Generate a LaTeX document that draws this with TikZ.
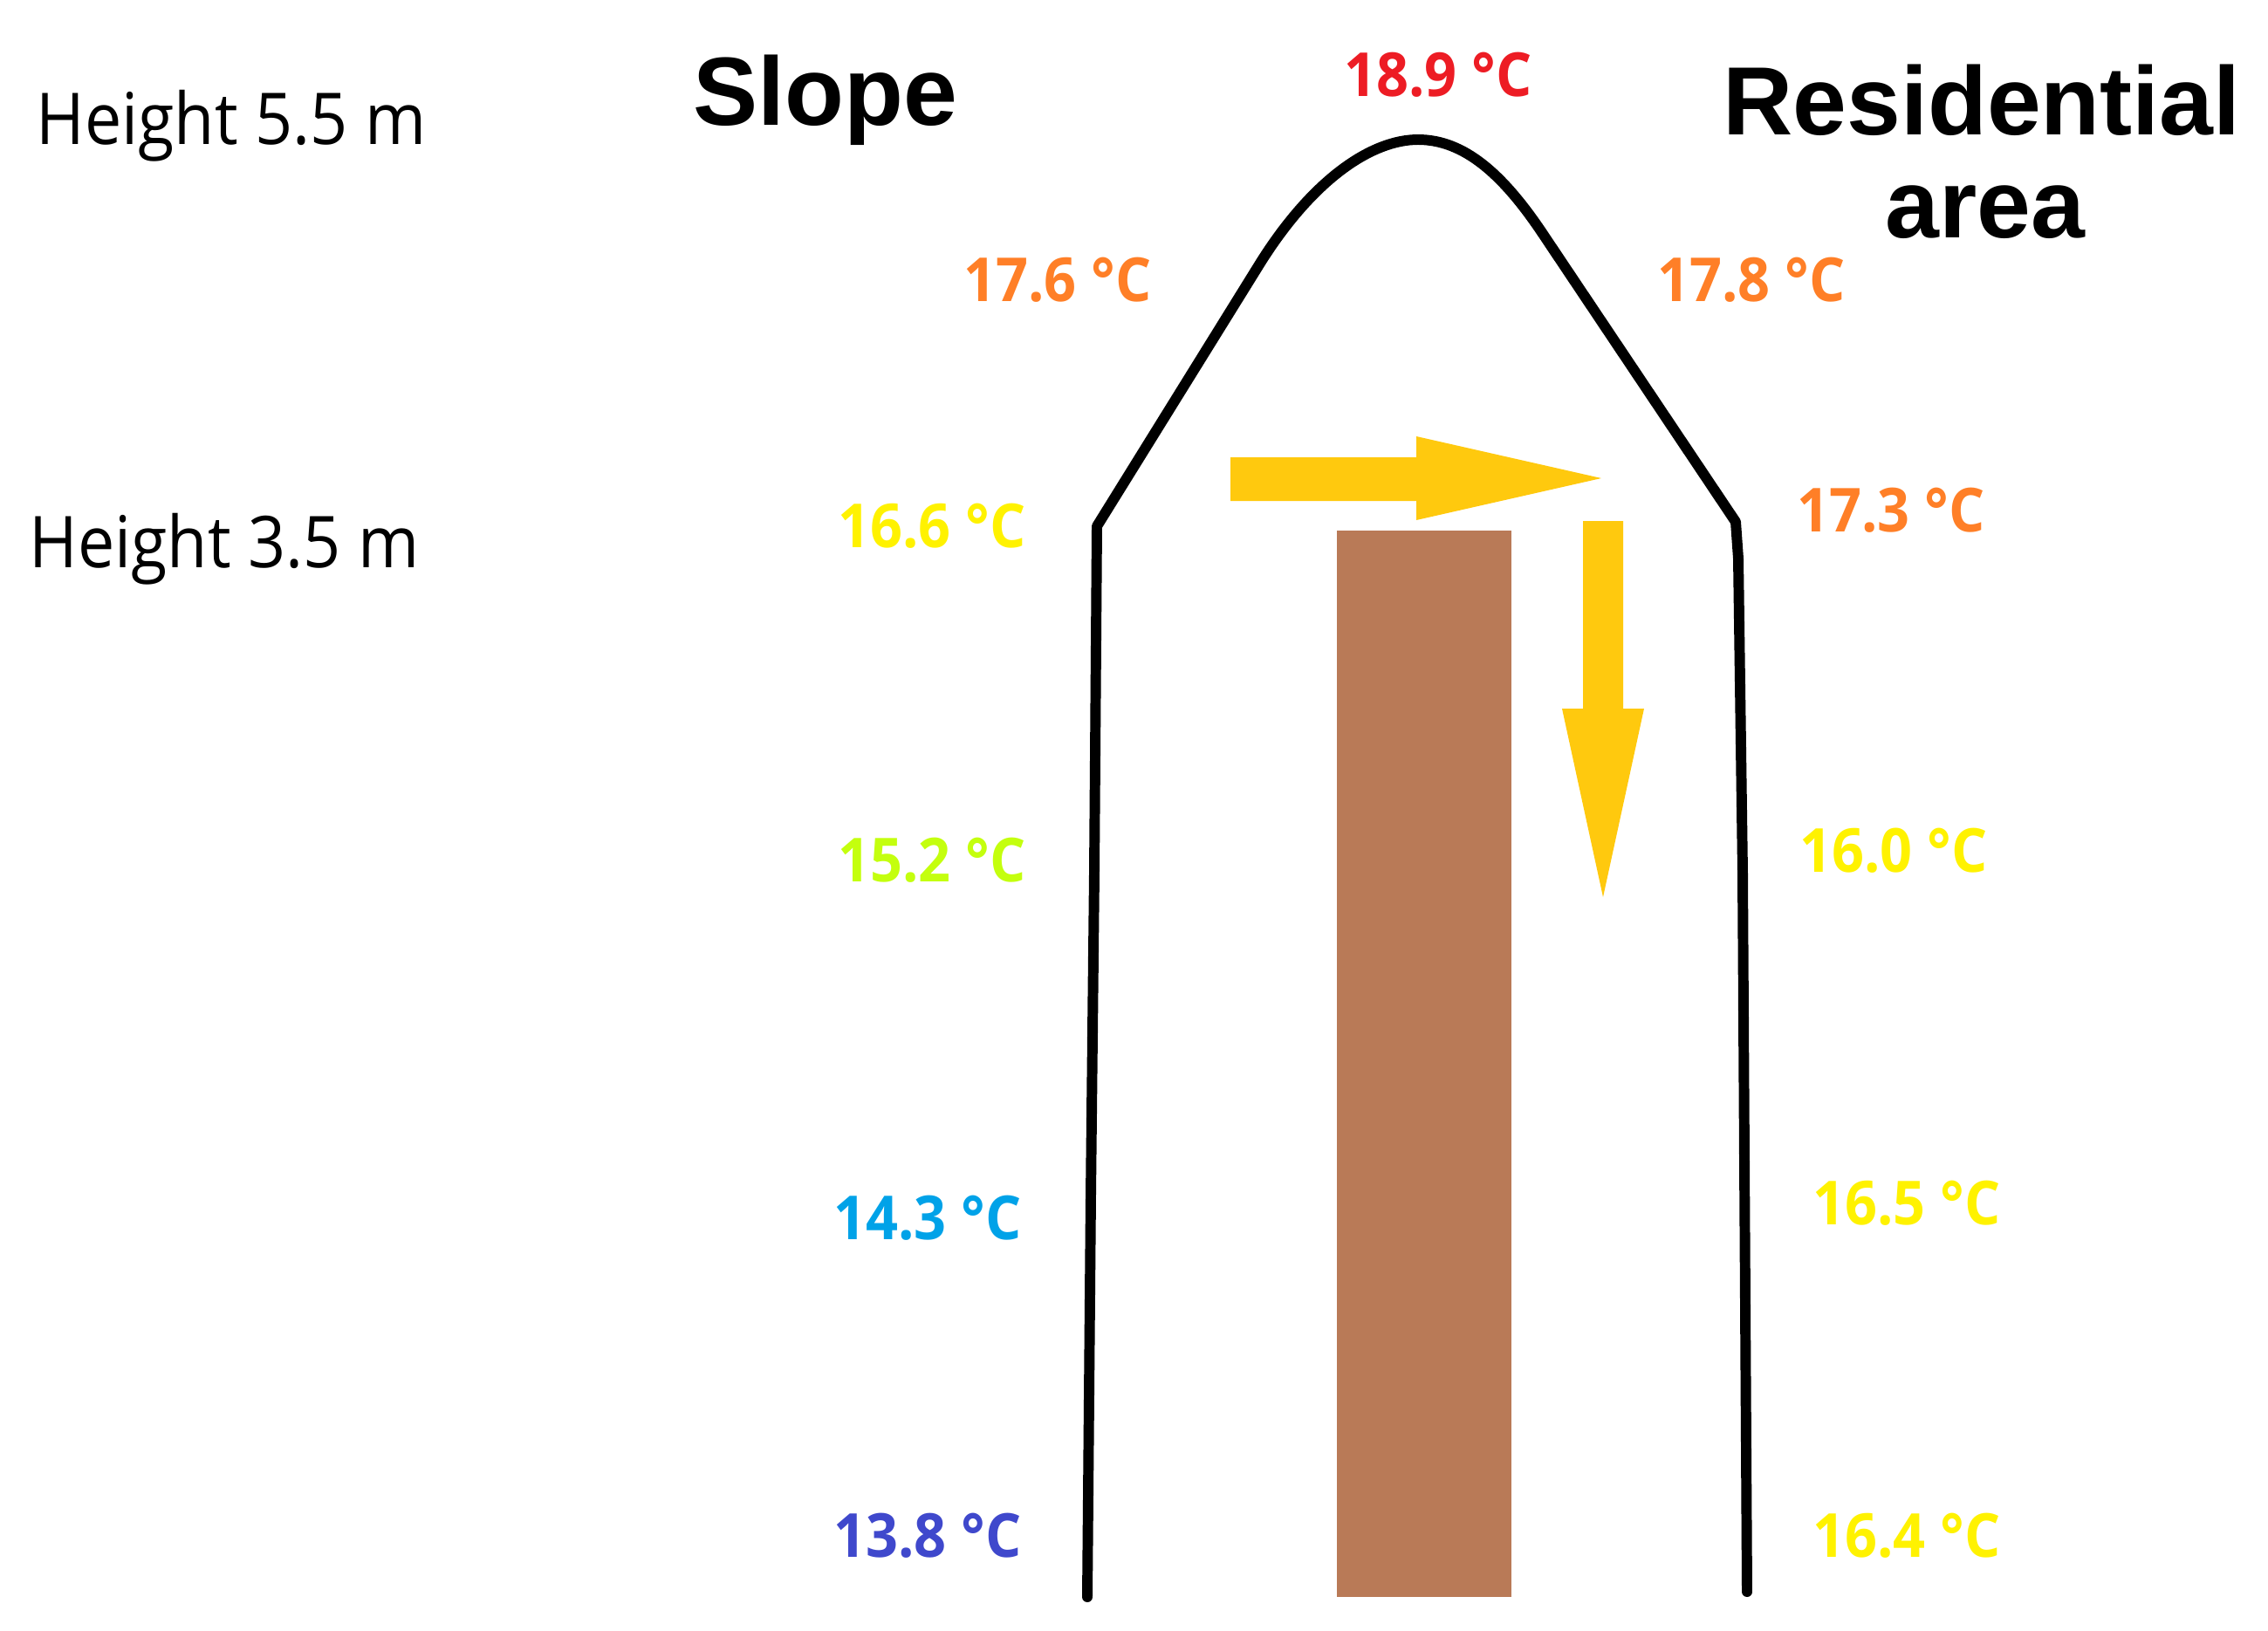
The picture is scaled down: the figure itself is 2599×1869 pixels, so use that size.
\documentclass[tikz,border=0pt]{standalone}
\usepackage{fontspec}
\setmainfont{Open Sans}
\newfontfamily\titlefont{Liberation Sans}
\definecolor{tred}{HTML}{ED1C24}
\definecolor{torange}{HTML}{FF7F27}
\definecolor{tyellow}{HTML}{FFF200}
\definecolor{tlime}{HTML}{C4FF0E}
\definecolor{tcyan}{HTML}{00A2E8}
\definecolor{tindigo}{HTML}{3F48CC}
\definecolor{flow}{HTML}{FFC90E}
\definecolor{wall}{HTML}{B97A57}
\begin{document}
\begin{tikzpicture}[x=0.01cm,y=-0.01cm,
  temp/.style={anchor=base,inner sep=0pt,xscale=0.93,font=\fontsize{19.8}{23}\selectfont\bfseries},
  heightlbl/.style={anchor=base west,inner sep=0pt,xscale=0.92,font=\fontsize{23.3}{27}\selectfont},
  title/.style={anchor=base,inner sep=0pt,font=\titlefont\fontsize{31.6}{36}\selectfont\bfseries},
  outline/.style={line width=3.4pt,line cap=round,line join=round,black}]
\useasboundingbox[fill=white] (0,0) rectangle (2599,1869);

% wall
\fill[wall] (1532,608) rectangle (1732,1830);

% outline of the temperature profile
\draw[outline] (1246,1830) -- (1250,1370) -- (1254,1000) -- (1257,603)
  -- (1445,300) .. controls (1505,205) and (1572,160) .. (1625,160)
  .. controls (1678,160) and (1722,200) .. (1766,265)
  -- (1989,598) -- (1992,640) -- (1997,1000) -- (2002,1824);

% flow arrows
\fill[flow] (1410,524) -- (1623,524) -- (1623,500) -- (1835,548)
  -- (1623,596) -- (1623,574) -- (1410,574) -- cycle;
\fill[flow] (1814,597) -- (1860,597) -- (1860,812) -- (1884,812)
  -- (1837,1028) -- (1790,812) -- (1814,812) -- cycle;

% labels
\node[heightlbl] (h55) at (41,165) {Height 5.5 m};
\node[heightlbl] (h35) at (33,650) {Height 3.5 m};
\node[title] (slope) at (946,143) {Slope};
\node[title] (res1) at (2271,154) {Residential};
\node[title] (res2) at (2275,272) {area};

\node[temp,text=tred] (t189) at (1648,110) {18.9 °C};
\node[temp,text=torange] (t176) at (1212,345) {17.6 °C};
\node[temp,text=torange] (t178) at (2007,345) {17.8 °C};
\node[temp,text=tyellow] (t166) at (1068,627) {16.6 °C};
\node[temp,text=torange] (t173) at (2167,609) {17.3 °C};
\node[temp,text=tlime] (t152) at (1068,1010) {15.2 °C};
\node[temp,text=tyellow] (t160) at (2170,999) {16.0 °C};
\node[temp,text=tcyan] (t143) at (1063,1420) {14.3 °C};
\node[temp,text=tyellow] (t165) at (2185,1403) {16.5 °C};
\node[temp,text=tindigo] (t138) at (1063,1784) {13.8 °C};
\node[temp,text=tyellow] (t164) at (2185,1784) {16.4 °C};
\end{tikzpicture}
\end{document}
